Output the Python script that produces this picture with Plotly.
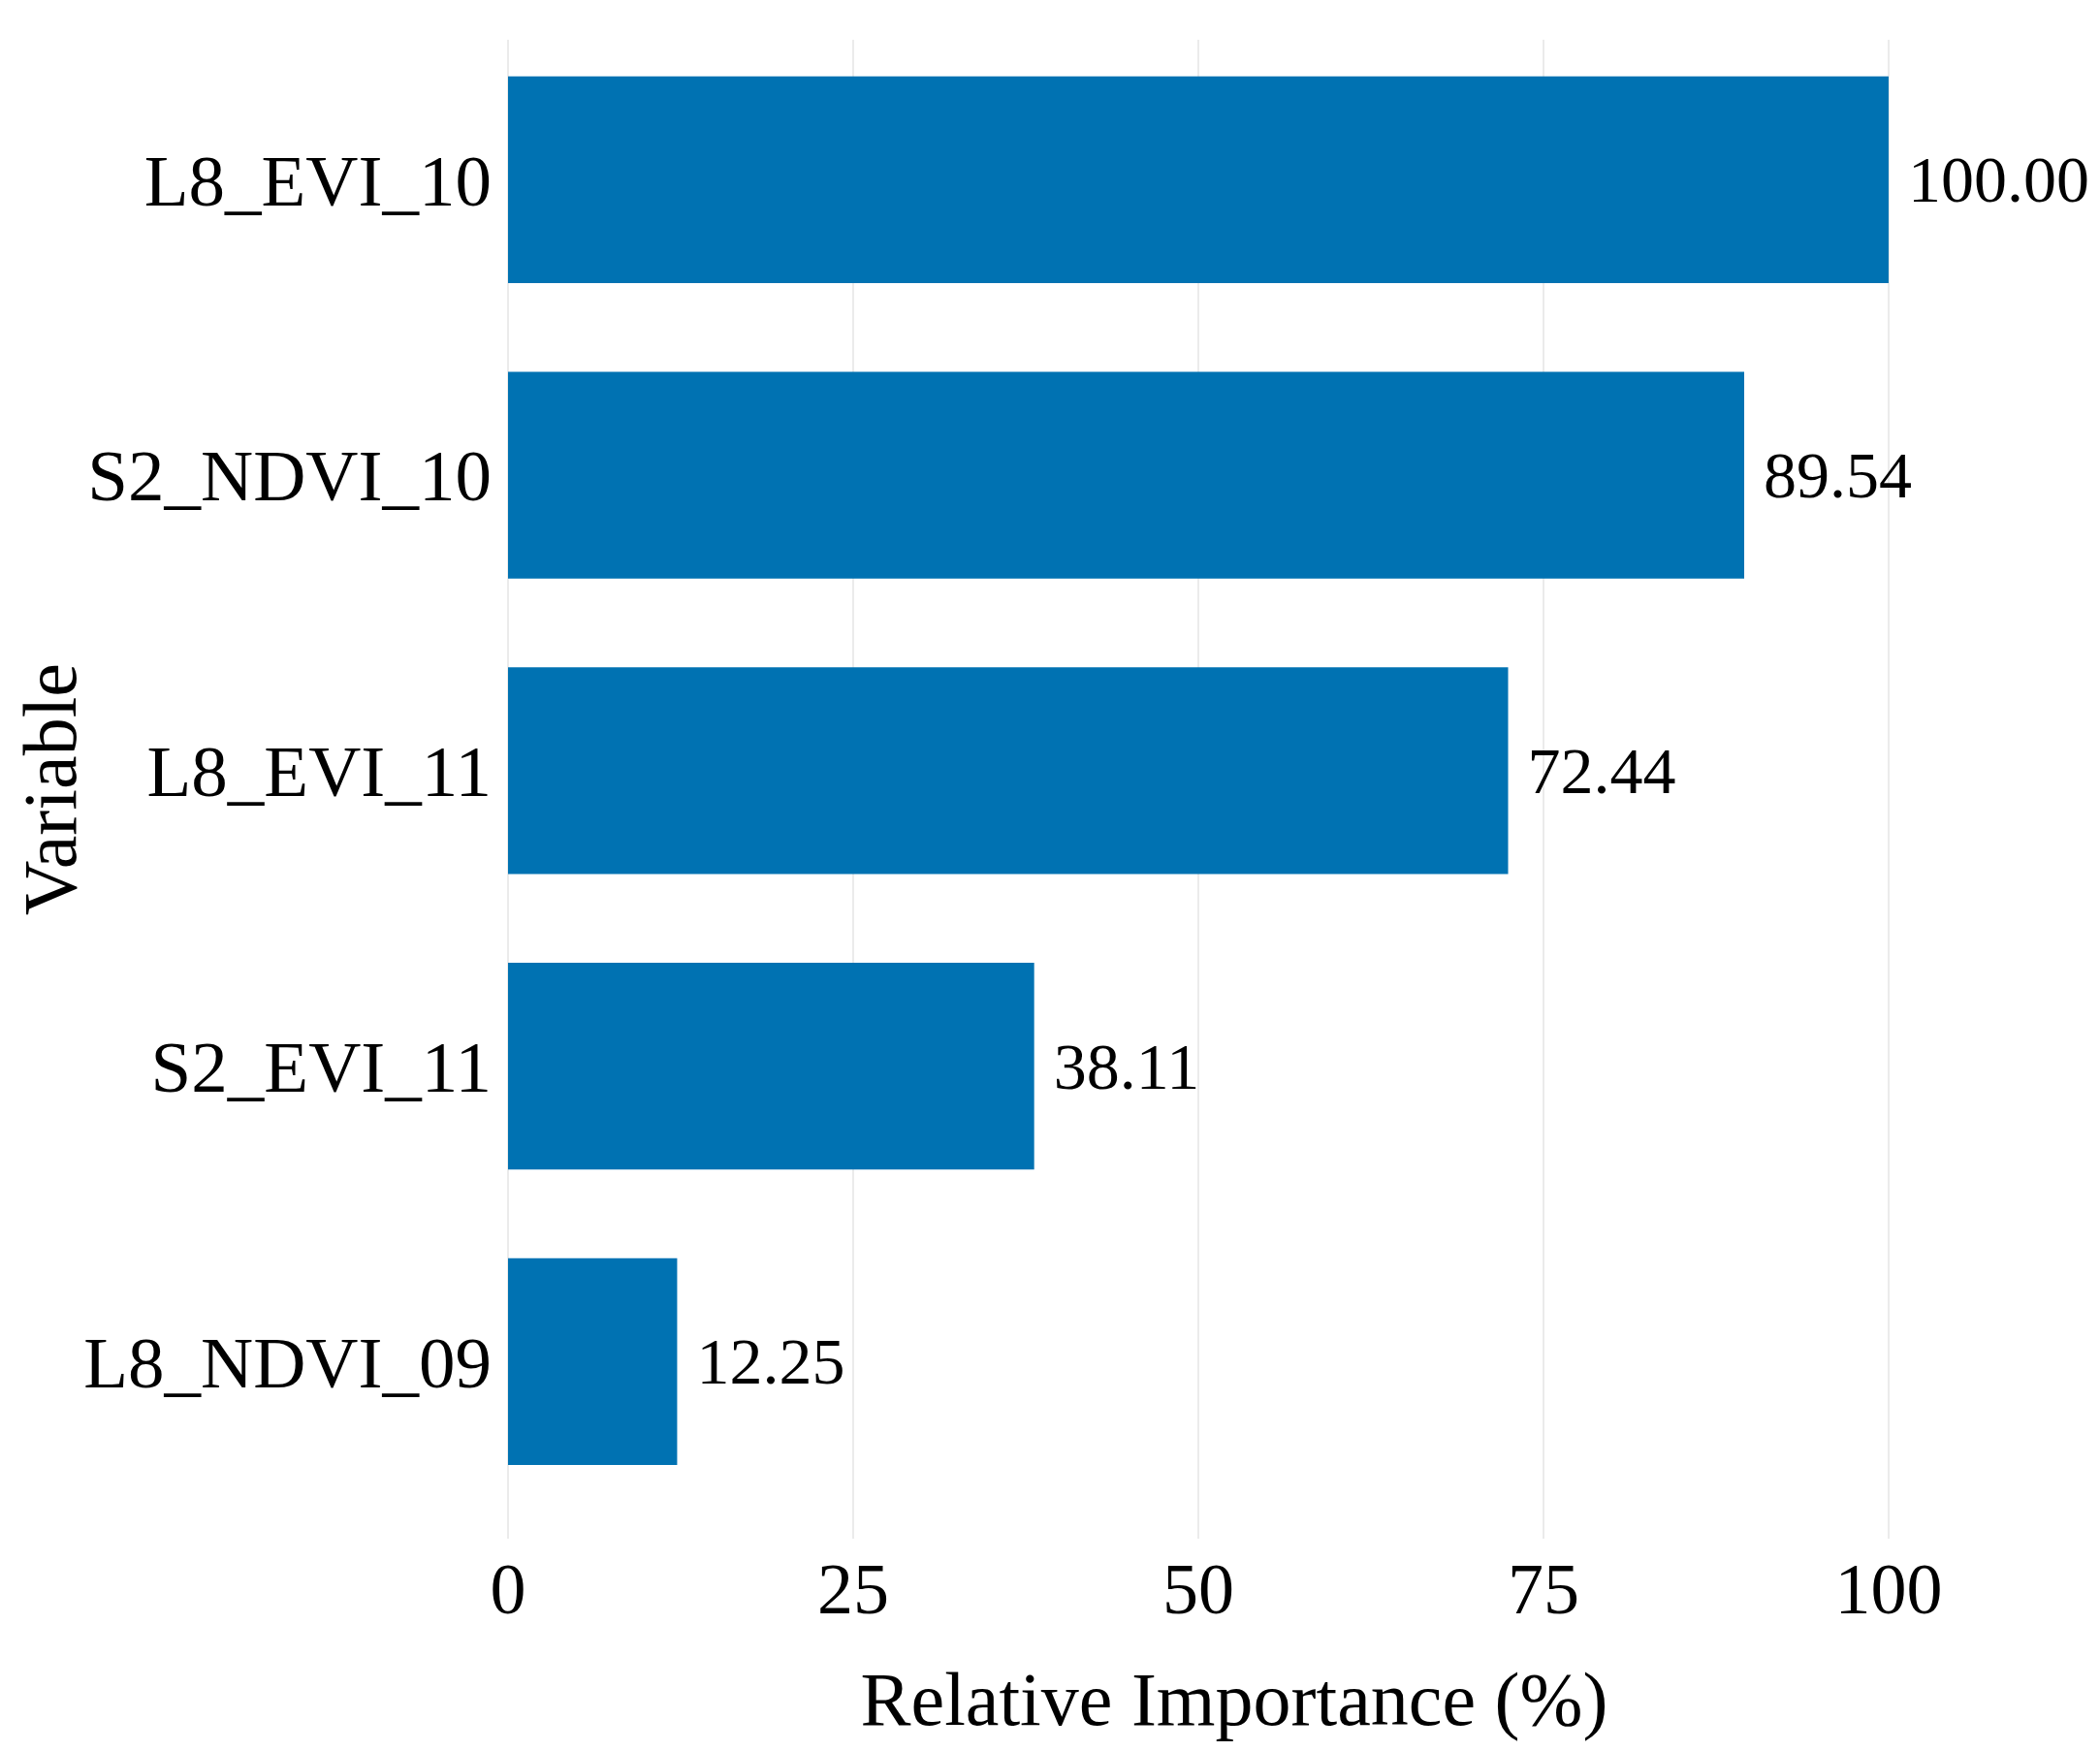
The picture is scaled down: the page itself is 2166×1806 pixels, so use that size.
import plotly.graph_objects as go

# Relative importance of the top variables (bottom to top as drawn)
variables = ['L8_NDVI_09', 'S2_EVI_11', 'L8_EVI_11', 'S2_NDVI_10', 'L8_EVI_10']
importance = [12.25, 38.11, 72.44, 89.54, 100.00]
x_ticks = [0, 25, 50, 75, 100]

font_family = 'Liberation Serif'

fig = go.Figure(
    go.Bar(
        x=importance,
        y=variables,
        orientation='h',
        marker=dict(color='#0072B2', line=dict(width=0)),
        texttemplate='\u00a0%{x:.2f}',
        textposition='outside',
        textfont=dict(family=font_family, size=68, color='black'),
        cliponaxis=False,
    )
)

fig.update_layout(
    width=2166,
    height=1806,
    margin=dict(l=516, r=152, t=33, b=227),
    plot_bgcolor='white',
    paper_bgcolor='white',
    bargap=0.3,
    showlegend=False,
    font=dict(family=font_family, color='black'),
)

fig.update_xaxes(
    range=[0, 105.2],
    tickvals=x_ticks,
    showgrid=True,
    gridcolor='#EBEBEB',
    gridwidth=2,
    zeroline=True,
    zerolinecolor='#EBEBEB',
    zerolinewidth=2,
    showline=False,
    ticks='',
    ticklabelstandoff=2,
    tickfont=dict(size=74, color='black'),
    title=dict(text='Relative Importance (%)', font=dict(size=78, color='black'), standoff=45),
)

fig.update_yaxes(
    categoryorder='array',
    categoryarray=variables,
    range=[-0.599, 4.474],
    showgrid=False,
    showline=False,
    ticks='',
    ticklabelstandoff=16,
    tickfont=dict(size=75, color='black'),
    title=dict(text='Variable', font=dict(size=78, color='black'), standoff=2),
)

fig.write_html('out.html')
